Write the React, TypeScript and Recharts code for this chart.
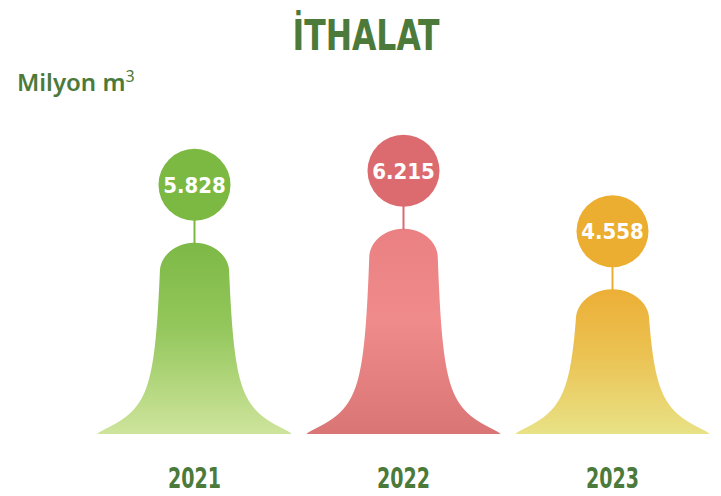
import React from 'react';
import { BarChart, Bar, XAxis, YAxis } from 'recharts';

// ---- data ----
const years: string[] = ['2021', '2022', '2023'];
const values: number[] = [5.828, 6.215, 4.558];
const valueLabels: string[] = ['5.828', '6.215', '4.558'];

const TITLE = 'İTHALAT';
const UNIT = 'Milyon m';
const UNIT_SUP = '3';

// ---- styles ----
const bellTop = ['#7DB946', '#EA8082', '#ECAF36'];
const bellMid = ['#94C75C', '#F08B8B', '#EBC252'];
const bellBottom = ['#CEE49C', '#D97575', '#E8E286'];
const circleFill = ['#7BB943', '#DC6B70', '#ECAE30'];
const GREEN_TEXT = '#4B7A3A';
const NARROW = "'Liberation Sans Narrow', 'Arial Narrow', 'DejaVu Sans Condensed', sans-serif";

const data = years.map((y, i) => ({ year: y, value: values[i], label: valueLabels[i] }));

// half-width of the bell at distance u from the top of a bell of height h
function halfWidth(u: number, h: number) {
  const d = Math.max(h - u, 0);
  const body = 31 + 3 * (u / h);
  const tail = 63 / (1 + Math.pow(d / 20, 1.4));
  const R = 28;
  const k = Math.min(u, R) / R;
  const cap = Math.sqrt(Math.max(0, 1 - (1 - k) * (1 - k)));
  return cap * (body + tail);
}

function Bell(props: any) {
  const { x, y, width, height, index, payload } = props;
  const cx = x + width / 2;
  const top = y;
  const h = height;
  const us: number[] = [];
  for (let u = 0; u < 4; u += 0.25) us.push(u);
  for (let u = 4; u < h; u += 1) us.push(u);
  us.push(h);
  const left: string[] = [];
  const right: string[] = [];
  us.forEach((u) => {
    const w = halfWidth(u, h);
    left.push(`${(cx - w).toFixed(2)} ${(top + u).toFixed(2)}`);
    right.push(`${(cx + w).toFixed(2)} ${(top + u).toFixed(2)}`);
  });
  const d = 'M ' + left.slice().reverse().join(' L ') + ' L ' + right.join(' L ') + ' Z';
  const r = 36;
  const cy = top - 58;
  return (
    <g>
      <path d={d} fill={`url(#bellGrad${index})`} />
      <line x1={cx} y1={cy + r - 1} x2={cx} y2={top + 1} stroke={circleFill[index]} strokeWidth={2} />
      <circle cx={cx} cy={cy} r={r} fill={circleFill[index]} />
      <text
        x={cx}
        y={cy + 8}
        textAnchor="middle"
        fill="#ffffff"
        fontFamily="'DejaVu Sans Condensed', 'DejaVu Sans', sans-serif"
        fontWeight="bold"
        fontSize={22}
      >
        {payload.label}
      </text>
    </g>
  );
}

function YearTick(props: any) {
  const { x, payload } = props;
  return (
    <text
      x={x}
      y={488}
      textAnchor="middle"
      fill={GREEN_TEXT}
      fontFamily={NARROW}
      fontWeight="bold"
      fontSize={28}
      textLength={53}
      lengthAdjust="spacingAndGlyphs"
    >
      {payload.value}
    </text>
  );
}

export default function App() {
  return (
    <div style={{ position: 'absolute', left: 0, top: 0, width: 721, height: 496, background: '#ffffff' }}>
      <BarChart
        width={721}
        height={496}
        data={data}
        margin={{ top: 200, right: 4, left: 90, bottom: 0 }}
        barCategoryGap="0%"
      >
        <defs>
          {years.map((_, i) => (
            <linearGradient key={i} id={`bellGrad${i}`} x1="0" y1="0" x2="0" y2="1">
              <stop offset="0%" stopColor={bellTop[i]} />
              <stop offset="45%" stopColor={bellMid[i]} />
              <stop offset="100%" stopColor={bellBottom[i]} />
            </linearGradient>
          ))}
        </defs>
        <XAxis
          dataKey="year"
          axisLine={false}
          tickLine={false}
          height={62}
          interval={0}
          tick={<YearTick />}
        />
        <YAxis hide domain={[0.6, 7]} />
        <Bar dataKey="value" isAnimationActive={false} shape={<Bell />} />
      </BarChart>
      <svg
        width={721}
        height={110}
        style={{ position: 'absolute', left: 0, top: 0, pointerEvents: 'none' }}
      >
        <text
          x={366}
          y={50}
          textAnchor="middle"
          fill={GREEN_TEXT}
          fontFamily={NARROW}
          fontWeight="bold"
          fontSize={42}
          textLength={147}
          lengthAdjust="spacingAndGlyphs"
        >
          {TITLE}
        </text>
        <text
          x={17}
          y={91}
          fill={GREEN_TEXT}
          fontFamily="'Noto Sans', 'Open Sans', sans-serif"
          fontWeight={600}
          fontSize={24}
        >
          {UNIT}
          <tspan dy={-9} fontSize={16} fontWeight={400}>
            {UNIT_SUP}
          </tspan>
        </text>
      </svg>
    </div>
  );
}
